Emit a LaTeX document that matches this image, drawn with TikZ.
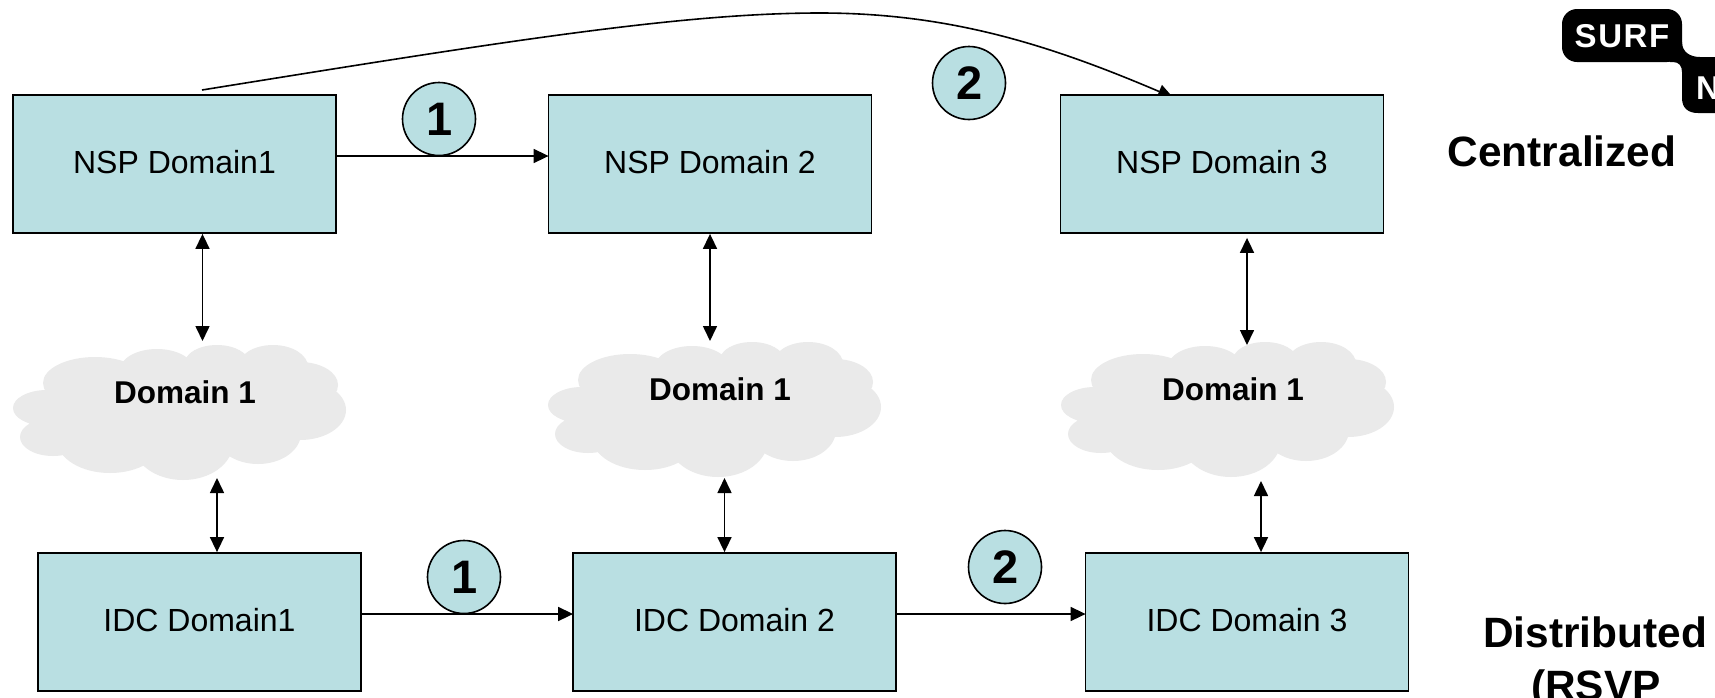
\documentclass[tikz,border=0pt]{standalone}
\usepackage{fontspec}
\setmainfont{Liberation Sans}
\usetikzlibrary{arrows.meta}
\definecolor{boxfill}{HTML}{B9DFE2}
\definecolor{cloudfill}{HTML}{EAEAEA}
\newcommand{\cloudblob}[2]{%
  \begin{scope}[shift={(#1,#2)}]
    \fill[cloudfill]
      (95,383) ellipse [x radius=52pt,y radius=26pt]
      (157,370) ellipse [x radius=37pt,y radius=21pt]
      (217,363) ellipse [x radius=32pt,y radius=18pt]
      (273,367) ellipse [x radius=35pt,y radius=22pt]
      (300,385) ellipse [x radius=38pt,y radius=23pt]
      (300,410) ellipse [x radius=46pt,y radius=30pt]
      (258,433) ellipse [x radius=43pt,y radius=31pt]
      (183,443) ellipse [x radius=50pt,y radius=37pt]
      (110,440) ellipse [x radius=53pt,y radius=33pt]
      (53,437) ellipse [x radius=33pt,y radius=19pt]
      (47,408) ellipse [x radius=34pt,y radius=18pt]
      (180,408) ellipse [x radius=115pt,y radius=48pt];
  \end{scope}}
\tikzset{
  x=1pt,y=-1pt,
  flowbox/.style={draw=black,line width=1.8pt,fill=boxfill,minimum width=323pt,minimum height=138pt,inner sep=0pt,text height=23pt,text depth=4pt,font=\fontsize{32}{38}\selectfont},
  badge/.style={circle,draw=black,line width=1.6pt,fill=boxfill,minimum size=73pt,inner sep=0pt,text height=34pt,text depth=2pt,font=\fontsize{47}{56}\selectfont\bfseries,execute at begin node={\kern2pt}},
  cloudtext/.style={anchor=base,inner sep=0pt,font=\fontsize{31.5}{38}\selectfont\bfseries},
  sidetext/.style={anchor=base,inner sep=0pt,font=\fontsize{42.4}{50}\selectfont\bfseries},
  logotext/.style={inner sep=0pt,text=white,font=\fontsize{33}{40}\selectfont\bfseries\addfontfeature{LetterSpace=5}},
  conn/.style={line width=1.6pt,shorten >=-1pt,-{Triangle[length=15pt,width=14pt]}},
  biconn/.style={line width=1.6pt,{Triangle[length=15pt,width=14pt]}-{Triangle[length=15pt,width=14pt]}},
}
\begin{document}
\begin{tikzpicture}
\useasboundingbox (0,0) rectangle (1715,697);
\clip (0,0) rectangle (1715,697);
\fill[white] (0,0) rectangle (1715,697);
% logo
\fill[black,rounded corners=15pt] (1562,9) rectangle (1682,62);
\fill[black] (1715,57) -- (1700,57) .. controls (1690,57) and (1682,52) .. (1682,42) -- (1670,42) -- (1670,62) -- (1673,62) .. controls (1679,62) and (1682,66) .. (1682,72) -- (1682,98) .. controls (1682,108) and (1688,113) .. (1698,113) -- (1715,113) -- cycle;
\node[logotext,anchor=base] (surf) at (1622,47) {SURF};
\node[logotext,anchor=base west] (logon) at (1696,99) {N};
% curve under the box
\coordinate (cs) at (202,90);
\coordinate (ctop) at (820,13);
\coordinate (ce) at (1172,97);
\draw[conn] (cs) .. controls (500,42) and (680,13) .. (ctop) .. controls (950,13) and (1050,45) .. (ce);
% clouds
\cloudblob{0}{0}
\cloudblob{535}{-3}
\cloudblob{1048}{-3}
\node[cloudtext] (c1) at (185,403) {Domain 1};
\node[cloudtext] (c2) at (720,400) {Domain 1};
\node[cloudtext] (c3) at (1233,400) {Domain 1};
% boxes
\node[flowbox] (n1) at (174.5,164) {NSP Domain1};
\node[flowbox] (n2) at (710,164) {NSP Domain 2};
\node[flowbox] (n3) at (1222,164) {NSP Domain 3};
\node[flowbox] (i1) at (199.5,622) {IDC Domain1};
\node[flowbox] (i2) at (734.5,622) {IDC Domain 2};
\node[flowbox] (i3) at (1247,622) {IDC Domain 3};
% horizontal arrows
\coordinate (yt) at (0,156);
\coordinate (yb) at (0,614);
\draw[conn] (n1.east |- yt) -- (n2.west |- yt);
\draw[conn] (i1.east |- yb) -- (i2.west |- yb);
\draw[conn] (i2.east |- yb) -- (i3.west |- yb);
% vertical arrows
\coordinate (a1) at (202.5,341);
\coordinate (a2) at (710,341);
\coordinate (a3) at (1247,345);
\coordinate (b1) at (217,478);
\coordinate (b2) at (724.5,478);
\coordinate (b3) at (1261,481);
\draw[biconn] (n1.south -| a1) -- (a1);
\draw[biconn] (n2.south -| a2) -- (a2);
\draw[biconn] ([yshift=-4pt]n3.south -| a3) -- (a3);
\draw[biconn] (b1) -- (i1.north -| b1);
\draw[biconn] (b2) -- (i2.north -| b2);
\draw[biconn] (b3) -- (i3.north -| b3);
% badges
\node[badge] (s1) at (439,119) {1};
\node[badge] (s2) at (969,83) {2};
\node[badge] (s3) at (464,577) {1};
\node[badge] (s4) at (1005,567) {2};
% side labels
\node[sidetext] (centr) at (1562,166) {Centralized};
\node[sidetext] (distr) at (1595,647) {Distributed};
\node[sidetext] (rsvp) at (1596,700) {(RSVP};
\end{tikzpicture}
\end{document}
